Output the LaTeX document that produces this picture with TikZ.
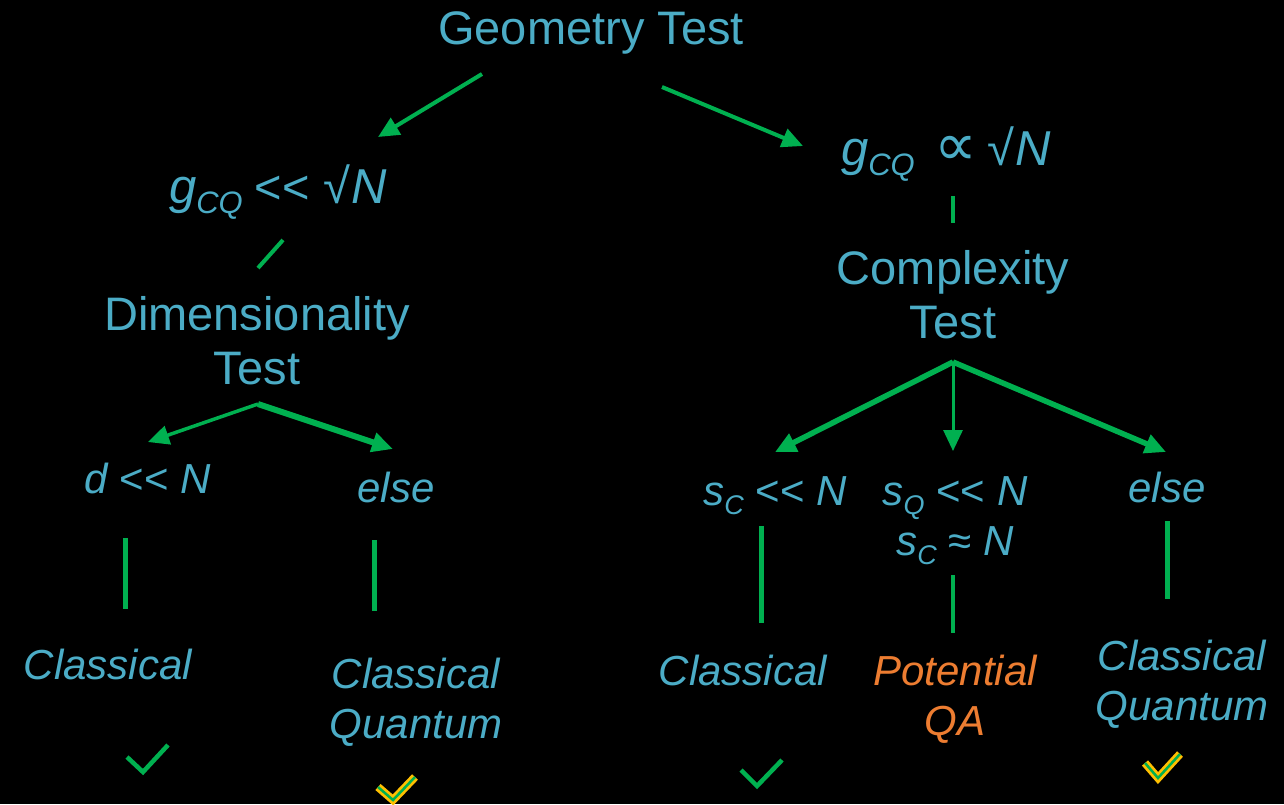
\documentclass[tikz,border=0pt]{standalone}
\usepackage{fontspec}
\setmainfont{Liberation Sans}
\newfontfamily\dvs{DejaVu Sans}
\usetikzlibrary{arrows.meta}
\definecolor{txt}{HTML}{4BACC6}
\definecolor{grn}{HTML}{00B050}
\definecolor{org}{HTML}{ED7D31}
\definecolor{ylw}{HTML}{FFC000}
\newcommand\bigup{\fontsize{47}{50}\selectfont}
\newcommand\bigit{\fontsize{42}{50}\selectfont\itshape}
\newcommand\frmit{\fontsize{49}{50}\selectfont\itshape}
\newcommand\mysub[1]{\raisebox{-9pt}{\fontsize{27}{30}\selectfont\itshape #1}}
\newcommand\frmsub[1]{\raisebox{-10pt}{\fontsize{31}{32}\selectfont\itshape #1}}
\newcommand\mylt{<\kern0pt<}
\tikzset{
  lbl/.style={text=txt, inner sep=0pt, anchor=base},
  up/.style={lbl, font=\bigup},
  it/.style={lbl, font=\bigit},
  arr/.style={draw=grn, line width=#1, -{Triangle[length=21pt,width=19pt]}},
  arr/.default=4pt,
  seg/.style={draw=grn, line width=#1},
  seg/.default=5pt,
  chk/.style={draw=grn, line width=4.5pt},
  ychk/.style={draw=ylw, line width=8pt},
  ychkin/.style={draw=grn, line width=2.5pt}
}
\begin{document}
\begin{tikzpicture}[x=1pt,y=-1pt]
\fill[black] (0,0) rectangle (1284,804);
\useasboundingbox (0,0) rectangle (1284,804);

% labels
\node[up] (geo) at (591,44) {Geometry Test};
\node[lbl] (gl) at (278,203) {\frmit g\frmsub{CQ}\hspace{12pt}{\bigup\upshape\mylt}\hspace{14pt}{\upshape √}\kern1pt N};
\node[lbl] (gr) at (946,165) {\frmit g\frmsub{CQ}\hspace{20pt}{\fontsize{60}{60}\selectfont\upshape\dvs ∝}\hspace{10pt}{\upshape √}\kern1pt N};
\node[up] (dim1) at (257,330) {Dimensionality};
\node[up] (dim2) at (257,384) {Test};
\node[up] (com1) at (953,284) {Complexity};
\node[up] (com2) at (953,338) {Test};
\node[lbl] (dl) at (148,493) {\bigit d {\upshape\mylt} N};
\node[it] (el) at (396,502) {else};
\node[lbl] (sc) at (775,505) {\bigit s\mysub{C} {\upshape\mylt} N};
\node[lbl] (sq) at (955,505) {\bigit s\mysub{Q} {\upshape\mylt} N};
\node[lbl] (sc2) at (955,555) {\bigit s\mysub{C} {\upshape ≈} N};
\node[it] (er) at (1167,502) {else};
\node[it] (c1) at (108,679) {Classical};
\node[it] (c2a) at (416,688) {Classical};
\node[it] (c2b) at (416,738) {Quantum};
\node[it] (c3) at (743,685) {Classical};
\node[it,text=org] (pa) at (955,685) {Potential};
\node[it,text=org] (pb) at (955,735) {QA};
\node[it] (c4a) at (1182,670) {Classical};
\node[it] (c4b) at (1182,720) {Quantum};

% connector endpoints
\coordinate (g0) at (482,74);
\coordinate (g1) at (378,137);
\coordinate (g2) at (662,87);
\coordinate (g3) at (803,146);
\coordinate (l0) at (283,240);
\coordinate (l1) at (258,268);
\coordinate (r0) at (953,196);
\coordinate (r1) at (953,223);
\coordinate (d0) at (258,404);
\coordinate (d1) at (148,442);
\coordinate (d2) at (393,449);
\coordinate (k0) at (953,362);
\coordinate (k1) at (775,452);
\coordinate (k2) at (953,451);
\coordinate (k3) at (1166,452);
\coordinate (v1a) at (125,538); \coordinate (v1b) at (125,609);
\coordinate (v2a) at (374,540); \coordinate (v2b) at (374,611);
\coordinate (v3a) at (761,526); \coordinate (v3b) at (761,623);
\coordinate (v4a) at (953,575); \coordinate (v4b) at (953,633);
\coordinate (v5a) at (1167,521); \coordinate (v5b) at (1167,599);

\draw[arr=4pt] (g0) -- (g1);
\draw[arr=4pt] (g2) -- (g3);
\draw[seg=4pt] (l0) -- (l1);
\draw[seg=4pt] (r0) -- (r1);
\draw[arr=3.5pt] (d0) -- (d1);
\draw[arr=6pt] (d0) -- (d2);
\draw[arr=5.5pt] (k0) -- (k1);
\draw[arr=3pt] (k0) -- (k2);
\draw[arr=5.5pt] (k0) -- (k3);
\draw[seg=5pt] (v1a) -- (v1b);
\draw[seg=5pt] (v2a) -- (v2b);
\draw[seg=5pt] (v3a) -- (v3b);
\draw[seg=3.5pt] (v4a) -- (v4b);
\draw[seg=5pt] (v5a) -- (v5b);

% check marks
\draw[chk] (127,757) -- (143,772) -- (168,745);
\draw[chk] (741,770) -- (757,786) -- (782,760);
\draw[ychk] (378,787) -- (393,800) -- (415,777);
\draw[ychkin] (378,787) -- (393,800) -- (415,777);
\draw[ychk] (1145,763) -- (1158,778) -- (1180,754);
\draw[ychkin] (1145,763) -- (1158,778) -- (1180,754);
\end{tikzpicture}
\end{document}
